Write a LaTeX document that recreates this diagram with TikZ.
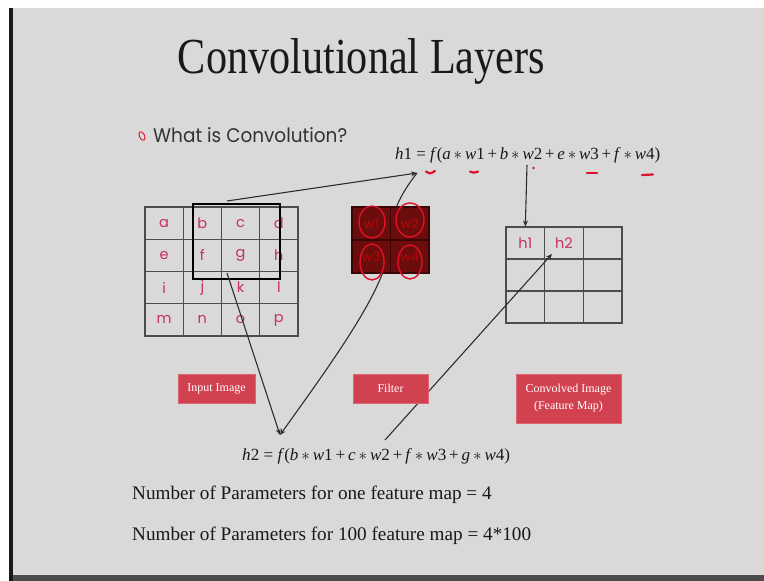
\documentclass[tikz,border=0pt]{standalone}
\usepackage{fontspec}
\setmainfont{Liberation Serif}
\newfontfamily\gothic{Poppins}
\usetikzlibrary{arrows.meta}
\definecolor{bg}{HTML}{D9D9D9}
\definecolor{pinkred}{HTML}{C8305E}
\definecolor{lblred}{HTML}{D24150}
\definecolor{filt}{HTML}{6B0D0D}
\definecolor{filtline}{HTML}{3A0505}
\definecolor{ink}{HTML}{2E2E2E}
\definecolor{markred}{HTML}{E0102A}
\newcommand\mv[1]{\textit{#1}}
\newcommand\st{\,$\ast$\,}
\newcommand\pl{\,+\,}
\tikzset{
  cell/.style={draw=ink!85, line width=1.1pt, minimum width=38.25pt, minimum height=32.25pt, inner sep=0pt,
               text=pinkred, font=\gothic\fontsize{14.5}{16}\selectfont},
  fcell/.style={draw=ink!85, line width=1.1pt, minimum width=38.67pt, minimum height=32pt, inner sep=0pt,
               text=pinkred, font=\gothic\fontsize{14.5}{16}\selectfont},
  wcell/.style={draw=filtline, fill=filt, line width=1.2pt, minimum width=38.5pt, minimum height=33pt, inner sep=0pt,
               text=red!50!filt, font=\gothic\fontsize{13}{15}\selectfont},
  lbl/.style={fill=lblred, draw=lblred!80!white, line width=0.8pt, text=white, inner sep=0pt, align=center,
              font=\fontsize{12}{15}\selectfont},
  conn/.style={draw=ink, line width=1.1pt},
  arr/.style={conn, -{Stealth[length=6pt,width=5pt]}},
  redmark/.style={draw=markred, line width=2.2pt, line cap=round},
  redring/.style={draw=markred, line width=1.4pt}
}
\begin{document}
\begin{tikzpicture}[x=1pt,y=-1pt]
\useasboundingbox (0,0) rectangle (764,581);
\fill[white] (0,0) rectangle (764,581);
\fill[bg] (12,8) rectangle (764,576);
\fill[black!90] (9,8) rectangle (13,581);
\fill[black!70] (13,575) rectangle (764,581);

% title
\node[anchor=base, text=black!90, inner sep=0pt] (title) at (361.5,73) {\resizebox{367pt}{35pt}{Convolutional Layers}};

% bullet
\draw[draw=markred, line width=0.9pt, rotate around={25:(142,136)}] (142,136) ellipse [x radius=2.6pt, y radius=4.6pt];
\node[anchor=base west, inner sep=0pt, text=black!80] (q) at (153,142) {\resizebox{194pt}{15pt}{\gothic What is Convolution?}};

% equations
\node[anchor=base west, inner sep=0pt, text=black!90] (eq1) at (395,159) {\resizebox{265pt}{12pt}{\mv{h}1 = \mv{f}(\mv{a}\st\mv{w}1\pl\mv{b}\st\mv{w}2\pl\mv{e}\st\mv{w}3\pl\mv{f}\st\mv{w}4)}};
\node[anchor=base west, inner sep=0pt, text=black!90] (eq2) at (242,460) {\resizebox{268pt}{12pt}{\mv{h}2 = \mv{f}(\mv{b}\st\mv{w}1\pl\mv{c}\st\mv{w}2\pl\mv{f}\st\mv{w}3\pl\mv{g}\st\mv{w}4)}};

% red marks under eq1
\draw[redmark] (426,171.5) .. controls (430,174) .. (435,171);
\draw[redmark] (470,171.5) .. controls (474,173) .. (478,171.5);
\fill[markred] (533.5,168) circle [radius=1.4pt];
\draw[redmark] (587,173) -- (597,173);
\draw[redmark] (642,175) -- (653,174.5);

% coordinates for connectors
\coordinate (p1) at (417,173);
\coordinate (p2) at (280,435);
\coordinate (s1) at (227,201);
\coordinate (s2) at (227,273);
\coordinate (fm) at (389,245);
\coordinate (e1) at (527,165);
\coordinate (e2) at (385,440);

% curve from h1 point through the filter to h2 point (drawn under the filter)
\draw[arr] (p1) .. controls (404,190) and (390,210) .. (fm) .. controls (389,285) and (330,365) .. (p2);

% input grid
\foreach \r/\rowletters [count=\i from 0] in {0/{a,b,c,d},1/{e,f,g,h},2/{i,j,k,l},3/{m,n,o,p}} {
  \foreach \L [count=\j from 0] in \rowletters {
    \node[cell] (in\L) at ({164.125+38.25*\j},{223.125+32.25*\i}) {\L};
  }
}
% window
\node[draw=black, line width=2.4pt, minimum width=87pt, minimum height=75pt, inner sep=0pt] (win) at (236.5,241.5) {};

% filter
\node[wcell] (w1) at (371.25,223.5) {w1};
\node[wcell] (w2) at (409.75,223.5) {w2};
\node[wcell] (w3) at (371.25,256.5) {w3};
\node[wcell] (w4) at (409.75,256.5) {w4};
\draw[redring] (372,222) ellipse [x radius=13pt, y radius=16pt];
\draw[redring] (410,220) ellipse [x radius=14pt, y radius=17pt];
\draw[redring] (372,262) ellipse [x radius=12pt, y radius=18pt];
\draw[redring] (410,262) ellipse [x radius=12pt, y radius=17pt];

% feature map grid
\foreach \i in {0,1,2} {
  \foreach \j in {0,1,2} {
    \node[fcell] (fm\i\j) at ({525.33+38.67*\j},{243+32*\i}) {};
  }
}
\node[text=pinkred, font=\gothic\fontsize{14.5}{16}\selectfont] (t1) at (fm00) {h1};
\node[text=pinkred, font=\gothic\fontsize{14.5}{16}\selectfont] (t2) at (fm01) {h2};

% other connectors
\draw[arr] (s1) -- (p1);
\draw[arr] (s2) -- (p2);
\draw[arr] (e1) -- (fm00.north);
\draw[arr] (e2) -- (552,254);

% labels
\node[lbl, minimum width=77pt, minimum height=29pt] (linput) at (216.5,388.5) {Input Image};
\node[lbl, minimum width=75pt, minimum height=29pt] (lfilter) at (390.5,388.5) {Filter};
\node[lbl, minimum width=105pt, minimum height=49pt, font=\fontsize{12}{17}\selectfont] (lconv) at (568.5,398.5) {Convolved Image\\(Feature Map)};

% bottom texts
\node[anchor=base west, inner sep=0pt, text=black!90, font=\fontsize{19.2}{23}\selectfont] (n1) at (132,499) {Number of Parameters for one feature map = 4};
\node[anchor=base west, inner sep=0pt, text=black!90, font=\fontsize{19.2}{23}\selectfont] (n2) at (132,540) {Number of Parameters for 100 feature map = 4*100};
\end{tikzpicture}
\end{document}
